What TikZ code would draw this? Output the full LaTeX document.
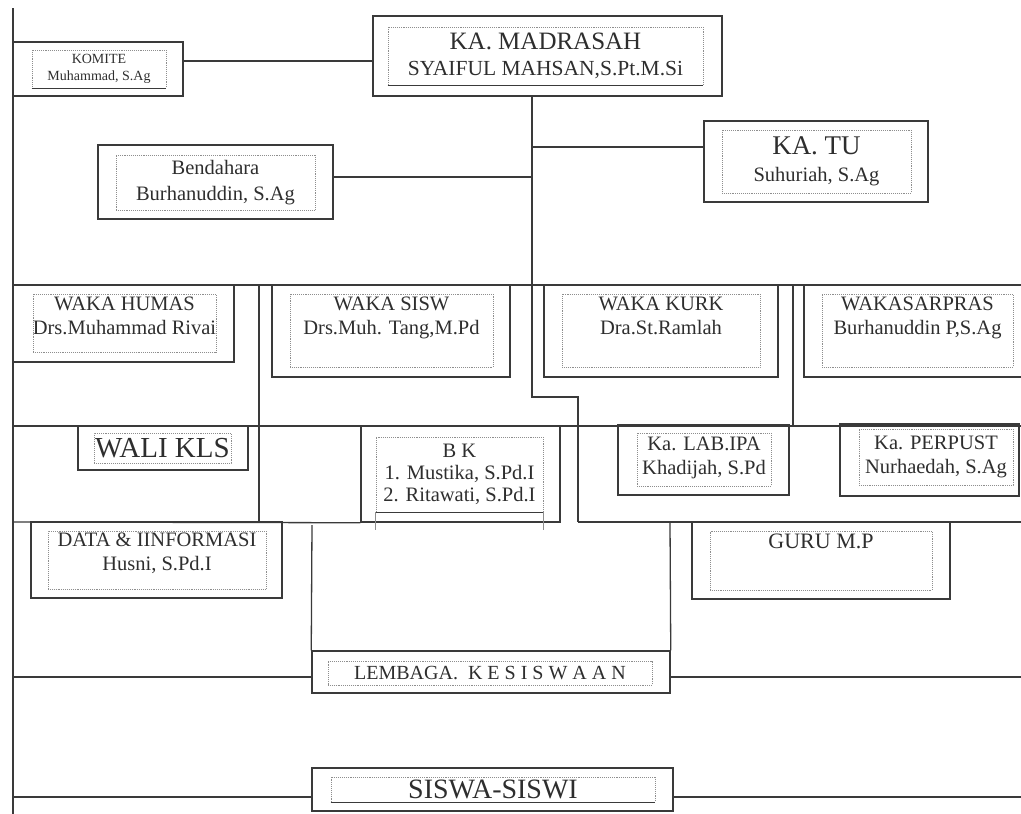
\documentclass[tikz,border=0pt]{standalone}
\usepackage{fontspec}
\setmainfont{Liberation Serif}
\usetikzlibrary{positioning}
\definecolor{ink}{HTML}{3A3A3A}
\definecolor{txtgray}{HTML}{2E2E2E}
\definecolor{dotgray}{HTML}{8E8E8E}

\begin{document}
\begin{tikzpicture}[x=1pt, y=-1pt,
    outer/.style={draw=ink, line width=1.5pt, inner sep=0pt},
    inner/.style={draw=dotgray, densely dotted, line width=0.9pt, inner sep=0pt},
    line/.style={draw=ink, line width=1.3pt},
    txt/.style={text=txtgray, align=center, inner sep=1pt, font=\fontsize{20.5}{24}\selectfont}]
    \useasboundingbox (0,0) rectangle (1021,814);
    % outer boxes: name/x/y/width/height
    \foreach \name/\x/\y/\w/\h in {komite/98/69/170/54, madrasah/547.5/56/349/80,
            katu/816/161.5/224/81, bendahara/215.5/182/235/74,
            humas/123.5/323.5/221/77, sisw/391/331/238/92, kurk/661/331/234/92, sarpras/917/331/226/92,
            walikls/163/448/170/44, bk/460.5/474/199/96, lab/703.5/460/171/70, perpust/929.5/460/179/72,
            data/156.5/560/251/76, guru/821/560.5/258/77,
            lembaga/491/672/358/42, siswi/492.5/789.5/361/43}{
        \node[outer, minimum width=\w pt, minimum height=\h pt] (\name) at (\x,\y) {};
    }
    % inner dotted frames
    \foreach \name/\x/\y/\w/\h in {komite/99/69/134/38, madrasah/545.5/56/315/58,
            katu/816.5/161.5/189/63, bendahara/215.5/182.5/199/55,
            humas/124.5/323/183/58, sisw/391.5/330.5/203/73, kurk/661/330.5/198/73, sarpras/917.5/330.5/191/73,
            walikls/162.5/448/137/30, bk/459.5/474.5/167/75, lab/704/459.5/134/53, perpust/936/457/154/56,
            data/157/560/218/58, guru/821/560.5/222/59,
            lembaga/490/673/324/24, siswi/493/789.5/324/25}{
        \node[inner, minimum width=\w pt, minimum height=\h pt] (\name-in) at (\x,\y) {};
    }
    % solid lower edges of some frames
    \foreach \name in {komite, madrasah, bk, siswi}{
        \draw[ink, line width=1pt] (\name-in.south west) -- (\name-in.south east);
    }
    \draw[dotgray, line width=0.8pt] (bk-in.south west) -- +(0,18) (bk-in.south east) -- +(0,18);

    % texts
    \node[txt, font=\fontsize{14}{17}\selectfont] at (komite-in) {KOMITE\\Muhammad, S.Ag};
    \node[txt, font=\fontsize{21.5}{26}\selectfont] at (madrasah-in) {{\fontsize{25}{26}\selectfont KA. MADRASAH}\\SYAIFUL MAHSAN,S.Pt.M.Si};
    \node[txt, font=\fontsize{20.5}{27}\selectfont] at (katu-in) {{\fontsize{27}{27}\selectfont KA. TU}\\Suhuriah, S.Ag};
    \node[txt, font=\fontsize{20.5}{26}\selectfont] at (bendahara-in) {Bendahara\\Burhanuddin, S.Ag};
    \node[txt, below=2pt of humas-in.north] {WAKA HUMAS\\Drs.Muhammad Rivai};
    \node[txt, below=2pt of sisw-in.north] {WAKA SISW\\Drs.Muh. Tang,M.Pd};
    \node[txt, below=2pt of kurk-in.north] {WAKA KURK\\Dra.St.Ramlah};
    \node[txt, below=2pt of sarpras-in.north] {WAKASARPRAS\\Burhanuddin P,S.Ag};
    \node[txt, font=\fontsize{29}{30}\selectfont] at (walikls-in) {WALI KLS};
    \node[txt, font=\fontsize{20.5}{22}\selectfont] at (bk-in) {B K\\1. Mustika, S.Pd.I\\2. Ritawati, S.Pd.I};
    \node[txt, below=3pt of lab-in.north] {Ka. LAB.IPA\\Khadijah, S.Pd};
    \node[txt] at (perpust-in) {Ka. PERPUST\\Nurhaedah, S.Ag};
    \node[txt, below=1pt of data-in.north] {DATA \& IINFORMASI\\Husni, S.Pd.I};
    \node[txt, font=\fontsize{22}{25}\selectfont, below=2pt of guru-in.north] {GURU M.P};
    \node[txt, font=\fontsize{20}{22}\selectfont] at (lembaga-in) {LEMBAGA.\ \ K E S I S W A A N};
    \node[txt, font=\fontsize{28}{28}\selectfont] at (siswi-in) {SISWA-SISWI};

    % junction points
    \coordinate (t1) at (532,96);
    \coordinate (t2) at (532,397);
    \coordinate (t3) at (578,397);
    \coordinate (t4) at (578,522);
    \coordinate (top) at (13,8);
    \coordinate (bot) at (13,814);
    \coordinate (r1a) at (13,285);
    \coordinate (r1b) at (1021,285);
    \coordinate (r2a) at (13,426);
    \coordinate (r2b) at (1021,426);
    \coordinate (r3a) at (13,522);
    \coordinate (r3b) at (1021,522);
    \coordinate (c1) at (259,285);
    \coordinate (c2) at (259,522);
    \coordinate (c3) at (793,285);
    \coordinate (c4) at (793,426);
    \coordinate (c5) at (312,525);
    \coordinate (c6) at (670,522);
    \coordinate (k1) at ([yshift=8pt]komite.east);
    \coordinate (u1) at ([yshift=14.5pt]katu.west);
    \coordinate (b1) at ([yshift=5pt]bendahara.east);
    \coordinate (l1) at ([yshift=-5pt]lembaga.west);
    \coordinate (l2) at ([yshift=-5pt]lembaga.east);
    \coordinate (s1) at ([yshift=-7.5pt]siswi.west);
    \coordinate (s2) at ([yshift=-7.5pt]siswi.east);
    \coordinate (e1) at (1021,677);
    \coordinate (e2) at (1021,797);

    % connectors
    \draw[line] (top) -- (bot);
    \draw[line] (k1) -- (k1 -| madrasah.west);
    \draw[line] (madrasah.south -| t1) -- (t2) -- (t3) -- (t4);
    \draw[line] (u1) -| (t1);
    \draw[line] (b1) -| (t1);
    \draw[line] (r1a) -- (r1b);
    \draw[line] (r2a) -- (r2b);
    \draw[line] (r3a) -- (bk.south west);
    \draw[line] (t4) -- (r3b);
    \draw[line] (c1) -- (c2);
    \draw[line] (c3) -- (c4);
    \draw[line] (c5) -- (lembaga.north west);
    \draw[line] (c6) -- (lembaga.north east);
    \draw[line] (l1 -| top) -- (l1);
    \draw[line] (l2) -- (e1);
    \draw[line] (s1 -| top) -- (s1);
    \draw[line] (s2) -- (e2);
\end{tikzpicture}
\end{document}
